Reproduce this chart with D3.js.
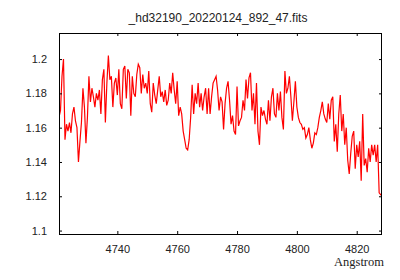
<!DOCTYPE html>
<html>
<head>
<meta charset="utf-8">
<script src="https://cdn.jsdelivr.net/npm/d3@7"></script>
<style>
  body { margin: 0; background: #fff; }
  svg { display: block; }
</style>
</head>
<body>
<div id="chart"></div>
<script>
// spectrum, 0.5 A grid
const wavelength = [
  4720.5, 4721, 4721.5, 4722, 4722.5, 4723, 4723.5, 4724, 4724.5, 4725,
  4725.5, 4726, 4726.5, 4727, 4727.5, 4728, 4728.5, 4729, 4729.5, 4730,
  4730.5, 4731, 4731.5, 4732, 4732.5, 4733, 4733.5, 4734, 4734.5, 4735,
  4735.5, 4736, 4736.5, 4737, 4737.5, 4738, 4738.5, 4739, 4739.5, 4740,
  4740.5, 4741, 4741.5, 4742, 4742.5, 4743, 4743.5, 4744, 4744.5, 4745,
  4745.5, 4746, 4746.5, 4747, 4747.5, 4748, 4748.5, 4749, 4749.5, 4750,
  4750.5, 4751, 4751.5, 4752, 4752.5, 4753, 4753.5, 4754, 4754.5, 4755,
  4755.5, 4756, 4756.5, 4757, 4757.5, 4758, 4758.5, 4759, 4759.5, 4760,
  4760.5, 4761, 4761.5, 4762, 4762.5, 4763, 4763.5, 4764, 4764.5, 4765,
  4765.5, 4766, 4766.5, 4767, 4767.5, 4768, 4768.5, 4769, 4769.5, 4770,
  4770.5, 4771, 4771.5, 4772, 4772.5, 4773, 4773.5, 4774, 4774.5, 4775,
  4775.5, 4776, 4776.5, 4777, 4777.5, 4778, 4778.5, 4779, 4779.5, 4780,
  4780.5, 4781, 4781.5, 4782, 4782.5, 4783, 4783.5, 4784, 4784.5, 4785,
  4785.5, 4786, 4786.5, 4787, 4787.5, 4788, 4788.5, 4789, 4789.5, 4790,
  4790.5, 4791, 4791.5, 4792, 4792.5, 4793, 4793.5, 4794, 4794.5, 4795,
  4795.5, 4796, 4796.5, 4797, 4797.5, 4798, 4798.5, 4799, 4799.5, 4800,
  4800.5, 4801, 4801.5, 4802, 4802.5, 4803, 4803.5, 4804, 4804.5, 4805,
  4805.5, 4806, 4806.5, 4807, 4807.5, 4808, 4808.5, 4809, 4809.5, 4810,
  4810.5, 4811, 4811.5, 4812, 4812.5, 4813, 4813.5, 4814, 4814.5, 4815,
  4815.5, 4816, 4816.5, 4817, 4817.5, 4818, 4818.5, 4819, 4819.5, 4820,
  4820.5, 4821, 4821.5, 4822, 4822.5, 4823, 4823.5, 4824, 4824.5, 4825,
  4825.5, 4826, 4826.5, 4827, 4827.5, 4828, 4828.5
];

const flux = [
  1.166, 1.170, 1.190, 1.200, 1.153, 1.162, 1.158, 1.163, 1.157, 1.168,
  1.172, 1.164, 1.160, 1.140, 1.152, 1.163, 1.183, 1.172, 1.151, 1.166,
  1.190, 1.175, 1.183, 1.178, 1.172, 1.180, 1.176, 1.182, 1.168, 1.188,
  1.194, 1.163, 1.186, 1.202, 1.188, 1.190, 1.172, 1.186, 1.189, 1.179,
  1.194, 1.174, 1.171, 1.194, 1.196, 1.177, 1.194, 1.192, 1.167, 1.190,
  1.180, 1.178, 1.191, 1.197, 1.195, 1.180, 1.191, 1.183, 1.186, 1.180,
  1.193, 1.174, 1.169, 1.186, 1.179, 1.174, 1.182, 1.190, 1.178, 1.181,
  1.175, 1.182, 1.173, 1.176, 1.186, 1.180, 1.192, 1.182, 1.174, 1.187,
  1.167, 1.172, 1.168, 1.158, 1.153, 1.148, 1.147, 1.153, 1.166, 1.185,
  1.168, 1.180, 1.174, 1.186, 1.172, 1.180, 1.170, 1.178, 1.183, 1.168,
  1.183, 1.168, 1.178, 1.186, 1.188, 1.190, 1.182, 1.170, 1.178, 1.175,
  1.159, 1.174, 1.183, 1.187, 1.176, 1.162, 1.167, 1.158, 1.156, 1.184,
  1.161, 1.164, 1.166, 1.176, 1.170, 1.188, 1.177, 1.189, 1.192, 1.170,
  1.180, 1.162, 1.186, 1.158, 1.150, 1.172, 1.167, 1.170, 1.165, 1.162,
  1.176, 1.164, 1.178, 1.183, 1.168, 1.166, 1.180, 1.170, 1.181, 1.166,
  1.159, 1.193, 1.180, 1.183, 1.190, 1.178, 1.164, 1.175, 1.187, 1.172,
  1.166, 1.163, 1.162, 1.159, 1.160, 1.154, 1.156, 1.160, 1.153, 1.148,
  1.151, 1.157, 1.156, 1.160, 1.166, 1.170, 1.175, 1.168, 1.165, 1.163,
  1.174, 1.165, 1.176, 1.178, 1.152, 1.162, 1.146, 1.168, 1.179, 1.158,
  1.168, 1.150, 1.160, 1.141, 1.133, 1.145, 1.155, 1.158, 1.136, 1.150,
  1.143, 1.152, 1.129, 1.168, 1.138, 1.142, 1.134, 1.148, 1.140, 1.150,
  1.144, 1.150, 1.140, 1.150, 1.122, 1.121, 1.120
];

const xTicks = [4740, 4760, 4780, 4800, 4820];
const yTicks = [1.1, 1.12, 1.14, 1.16, 1.18, 1.2];
const xRange = [4720.5, 4828.45];
const yRange = [1.098, 1.2152];

const title = "_hd32190_20220124_892_47.fits";
const xLabel = "Angstrom";

const width = 400, height = 280;
const margin = {top: 33, right: 18, bottom: 46, left: 59};

const svg = d3.select("#chart").append("svg")
    .attr("width", width)
    .attr("height", height);

const x = d3.scaleLinear().domain(xRange).range([margin.left, width - margin.right]);
const y = d3.scaleLinear().domain(yRange).range([height - margin.bottom, margin.top]);

svg.append("clipPath").attr("id", "plot")
  .append("rect")
    .attr("x", margin.left)
    .attr("y", margin.top)
    .attr("width", width - margin.left - margin.right)
    .attr("height", height - margin.top - margin.bottom);

const points = wavelength.map((w, i) => [w, flux[i]]);

svg.append("path")
    .datum(points)
    .attr("clip-path", "url(#plot)")
    .attr("fill", "none")
    .attr("stroke", "#ff0000")
    .attr("stroke-width", 1.2)
    .attr("d", d3.line().x(d => x(d[0])).y(d => y(d[1])));

// axes with inward ticks, mirrored on top and right
const fmtY = d => String(+d.toFixed(2));

function styleAxis(g) {
    g.select(".domain").remove();
    g.attr("font-family", "'Liberation Sans', Arial, sans-serif")
     .attr("font-size", 11);
    g.selectAll(".tick text").attr("fill", "#222");
    g.selectAll(".tick line").attr("stroke", "#000");
}

svg.append("g")
    .attr("transform", `translate(0,${height - margin.bottom})`)
    .call(d3.axisBottom(x).tickValues(xTicks).tickSize(-3).tickPadding(11).tickFormat(d3.format("d")))
    .call(styleAxis);

svg.append("g")
    .attr("transform", `translate(0,${margin.top})`)
    .call(d3.axisTop(x).tickValues(xTicks).tickSize(-3).tickFormat(""))
    .call(styleAxis);

svg.append("g")
    .attr("transform", `translate(${margin.left},0)`)
    .call(d3.axisLeft(y).tickValues(yTicks).tickSize(-3).tickPadding(12).tickFormat(fmtY))
    .call(styleAxis);

svg.append("g")
    .attr("transform", `translate(${width - margin.right},0)`)
    .call(d3.axisRight(y).tickValues(yTicks).tickSize(-3).tickFormat(""))
    .call(styleAxis);

svg.append("rect")
    .attr("x", margin.left + 0.5)
    .attr("y", margin.top + 0.5)
    .attr("width", width - margin.left - margin.right - 1)
    .attr("height", height - margin.top - margin.bottom)
    .attr("fill", "none")
    .attr("stroke", "#000")
    .attr("stroke-width", 1);

svg.append("text")
    .attr("x", 218)
    .attr("y", 22)
    .attr("text-anchor", "middle")
    .attr("font-family", "'Liberation Sans', Arial, sans-serif")
    .attr("font-size", 12)
    .attr("fill", "#222")
    .text(title);

svg.append("text")
    .attr("x", 384)
    .attr("y", 266)
    .attr("text-anchor", "end")
    .attr("font-family", "'Liberation Serif', 'Times New Roman', serif")
    .attr("font-size", 12.5)
    .attr("fill", "#222")
    .text(xLabel);
</script>
</body>
</html>
